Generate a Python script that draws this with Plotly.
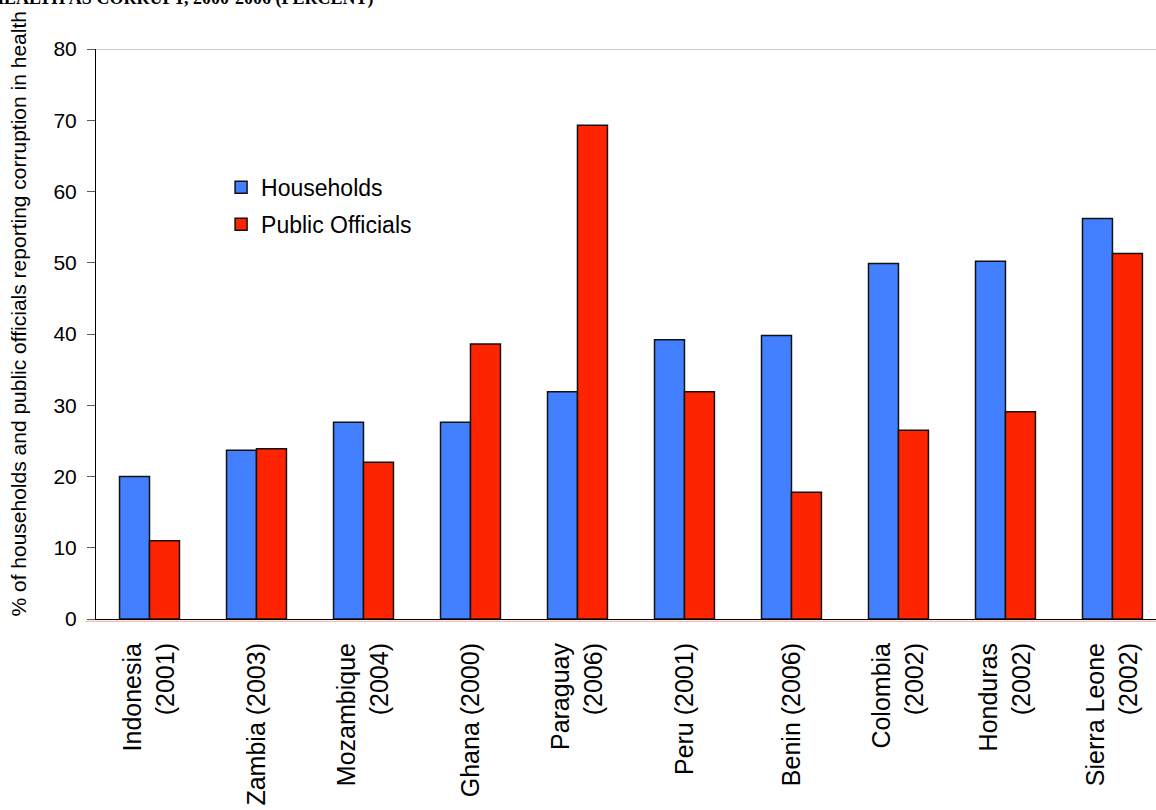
import plotly.graph_objects as go

# Survey countries (year of survey) and share reporting corruption in health (%)
countries = [
    "Indonesia<br>(2001)", "Zambia (2003)", "Mozambique<br>(2004)", "Ghana (2000)",
    "Paraguay<br>(2006)", "Peru (2001)", "Benin (2006)", "Colombia<br>(2002)",
    "Honduras<br>(2002)", "Sierra Leone<br>(2002)",
]
households = [20.0, 23.7, 27.6, 27.6, 31.9, 39.2, 39.8, 49.9, 50.2, 56.2]
public_officials = [11.0, 23.9, 22.0, 38.6, 69.3, 31.9, 17.8, 26.5, 29.1, 51.3]

y_ticks = [0, 10, 20, 30, 40, 50, 60, 70, 80]

BLUE = "#4380FF"
RED = "#FF2400"
FONT = "Liberation Sans, Arial, sans-serif"

fig = go.Figure()
fig.add_trace(go.Bar(
    x=countries, y=households, name="Households",
    marker=dict(color=BLUE, line=dict(color="#111", width=1.5)),
    legendgroup="h",
))
fig.add_trace(go.Bar(
    x=countries, y=public_officials, name="Public Officials",
    marker=dict(color=RED, line=dict(color="#111", width=1.5)),
    legendgroup="p",
))

fig.update_layout(
    width=1156, height=810,
    margin=dict(l=96, r=0, t=49, b=191),
    paper_bgcolor="white", plot_bgcolor="white",
    barmode="group", bargap=0.44, bargroupgap=0,
    font=dict(family=FONT, size=20, color="black"),
    showlegend=True,
    legend=dict(
        x=0.118, y=0.795, xanchor="left", yanchor="top",
        bgcolor="rgba(0,0,0,0)", font=dict(size=23),
        tracegroupgap=4, itemwidth=30,
    ),
    xaxis=dict(
        type="category", range=[-0.5, 9.407],
        tickangle=-90, ticks="", showgrid=False,
        showline=True, linecolor="black", linewidth=1,
        tickfont=dict(size=25), ticklabelstandoff=13,
    ),
    yaxis=dict(
        range=[0, 80], tickvals=y_ticks, showgrid=False, zeroline=False,
        showline=True, linecolor="black", linewidth=1,
        ticks="outside", ticklen=8, tickcolor="#6b5555",
        tickfont=dict(size=21), ticklabelstandoff=6,
    ),
    shapes=[
        # thin grey frame line along the top of the plot
        dict(type="line", xref="paper", yref="y", x0=0, x1=1, y0=80, y1=80,
             line=dict(color="#9a9a9a", width=1)),
        # faint red rule just under the category axis
        dict(type="line", xref="paper", yref="paper", x0=-0.01, x1=1,
             y0=-0.004, y1=-0.004, line=dict(color="#f2a898", width=1)),
    ],
    annotations=[
        dict(text="% of households and public officials reporting corruption in health",
             textangle=-90, xref="paper", yref="paper",
             x=-0.074, y=0.0, xanchor="center", yanchor="bottom",
             showarrow=False, font=dict(size=21)),
        dict(text="<b>HEALTH AS CORRUPT, 2000-2006 (PERCENT)</b>",
             xref="paper", yref="paper", x=-0.102, y=1.067,
             xanchor="left", yanchor="bottom", showarrow=False,
             font=dict(family="Liberation Serif, Times New Roman, serif", size=18)),
    ],
)

fig.write_html("out.html")
